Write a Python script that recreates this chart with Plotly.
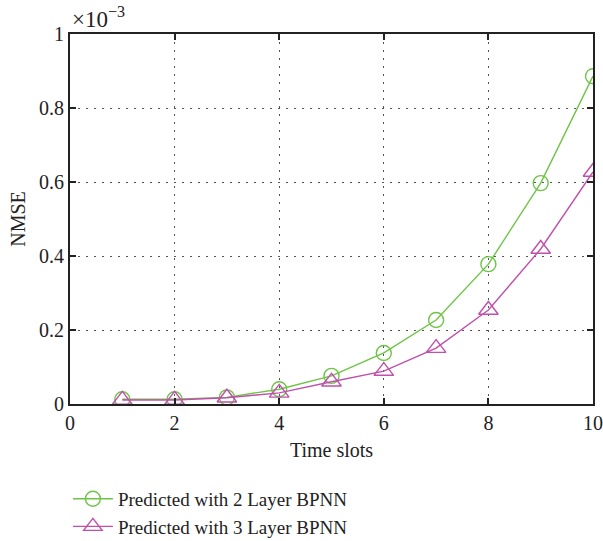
import plotly.graph_objects as go

# Time slots and NMSE values (in units of 1e-3)
time_slots = [1, 2, 3, 4, 5, 6, 7, 8, 9, 10]
nmse_2layer = [0.013, 0.013, 0.018, 0.040, 0.076, 0.138, 0.227, 0.378, 0.597, 0.886]
nmse_3layer = [0.011, 0.011, 0.017, 0.030, 0.060, 0.089, 0.151, 0.254, 0.419, 0.627]

x_ticks = [0, 2, 4, 6, 8, 10]
y_ticks = [0, 0.2, 0.4, 0.6, 0.8, 1]
y_tick_labels = ["0", "0.2", "0.4", "0.6", "0.8", "1"]

green = "rgb(110,196,70)"
magenta = "rgb(192,80,172)"
font_family = "Liberation Serif"

fig = go.Figure()
fig.add_trace(go.Scatter(
    x=time_slots, y=nmse_2layer, mode="lines+markers",
    name="Predicted with 2 Layer BPNN",
    line=dict(color=green, width=1.4),
    marker=dict(symbol="circle-open", size=15, color=green, line=dict(width=1.4)),
))
fig.add_trace(go.Scatter(
    x=time_slots, y=nmse_3layer, mode="lines+markers",
    name="Predicted with 3 Layer BPNN",
    line=dict(color=magenta, width=1.4),
    marker=dict(symbol="triangle-up-open", size=17, color=magenta, line=dict(width=1.4)),
))

axis_common = dict(
    showline=True, linecolor="#222", linewidth=2, mirror="ticks",
    ticks="inside", ticklen=6, tickcolor="#222", tickwidth=1.5,
    showgrid=True, gridcolor="#555", gridwidth=1.2, griddash="2px,6px",
    zeroline=False, automargin=False,
    tickfont=dict(family=font_family, size=20, color="#222"),
)

fig.update_layout(
    width=603, height=541,
    margin=dict(l=70, r=10, t=34, b=137),
    paper_bgcolor="white", plot_bgcolor="white",
    font=dict(family=font_family, color="#222"),
    xaxis=dict(range=[0, 10], tickvals=x_ticks,
               title=dict(text="Time slots", font=dict(family=font_family, size=20), standoff=10),
               **axis_common),
    yaxis=dict(range=[0, 1], tickvals=y_ticks, ticktext=y_tick_labels,
               title=dict(text="NMSE", font=dict(family=font_family, size=20), standoff=8),
               **axis_common),
    legend=dict(x=-0.004, y=0.113, xanchor="left", yanchor="top", yref="container",
                font=dict(family=font_family, size=19, color="#222"),
                bgcolor="rgba(0,0,0,0)", tracegroupgap=0, itemwidth=40),
    showlegend=True,
    annotations=[dict(
        x=0, y=1, xref="paper", yref="paper", xanchor="left", yanchor="bottom",
        text="×10<sup>−3</sup>", showarrow=False,
        font=dict(family=font_family, size=23, color="#222"),
    )],
)

fig.write_html("out.html")
